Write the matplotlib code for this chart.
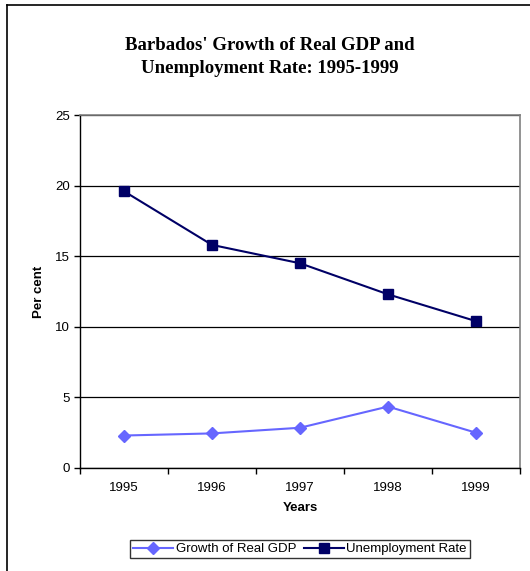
import matplotlib
matplotlib.use("Agg")
import matplotlib.pyplot as plt
from matplotlib.lines import Line2D

years = ["1995", "1996", "1997", "1998", "1999"]
gdp_growth = [2.3, 2.45, 2.85, 4.35, 2.5]
unemployment = [19.6, 15.8, 14.5, 12.3, 10.4]
y_ticks = [0, 5, 10, 15, 20, 25]

W, H = 530, 571
fig = plt.figure(figsize=(W / 100, H / 100), dpi=100)

# plot area in pixels: x 80..520, y 115..468
L, R, T, B = 80, 520, 115, 468
ax = fig.add_axes([L / W, 1 - B / H, (R - L) / W, (B - T) / H])

x = list(range(len(years)))
gdp_color = "#6666FF"
un_color = "#000066"
ax.plot(x, gdp_growth, color=gdp_color, lw=1.5, marker="D", ms=6,
        mfc=gdp_color, mec=gdp_color, label="Growth of Real GDP", zorder=3)
ax.plot(x, unemployment, color=un_color, lw=1.5, marker="s", ms=7.5,
        mfc=un_color, mec=un_color, label="Unemployment Rate", zorder=3)

fs = 9.5
ax.set_xlim(-0.5, len(years) - 0.5)
ax.set_ylim(0, 25)
ax.set_yticks(y_ticks)
ax.set_yticklabels([str(v) for v in y_ticks], fontsize=fs, family="Liberation Sans")
ax.yaxis.grid(True, color="black", lw=0.9)
ax.set_axisbelow(True)

ax.set_xticks(x)
ax.set_xticklabels(years, fontsize=fs, family="Liberation Sans")
ax.tick_params(axis="x", which="major", length=0, pad=10)
ax.set_xticks([i - 0.5 for i in range(len(years) + 1)], minor=True)
ax.tick_params(axis="x", which="minor", length=4, width=1, color="black")
ax.tick_params(axis="y", length=4, width=1, color="black", pad=3)

for s in ["top", "right"]:
    ax.spines[s].set_color("#808080")
    ax.spines[s].set_linewidth(1.2)
for s in ["left", "bottom"]:
    ax.spines[s].set_color("black")
    ax.spines[s].set_linewidth(1.0)

ax.set_ylabel("Per cent", fontsize=fs, fontweight="bold", family="Liberation Sans")
ax.yaxis.set_label_coords((45 - L) / (R - L), 0.5)
ax.set_xlabel("Years", fontsize=fs, fontweight="bold", family="Liberation Sans", labelpad=6)

fig.text(270 / W, 1 - 57 / H, "Barbados' Growth of Real GDP and\nUnemployment Rate: 1995-1999",
         ha="center", va="center", fontsize=13.5, fontweight="bold",
         family="Liberation Serif", linespacing=1.45)

handles = [
    Line2D([], [], color=gdp_color, lw=1.5, marker="D", ms=6, mfc=gdp_color, mec=gdp_color),
    Line2D([], [], color=un_color, lw=1.5, marker="s", ms=7, mfc=un_color, mec=un_color),
]
leg = fig.legend(handles, ["Growth of Real GDP", "Unemployment Rate"], ncol=2,
                 loc="center", bbox_to_anchor=(300 / W, 1 - 549 / H),
                 prop={"family": "Liberation Sans", "size": fs},
                 frameon=True, fancybox=False, edgecolor="black",
                 handlelength=3.0, handletextpad=0.2, columnspacing=0.6,
                 borderpad=0.25, borderaxespad=0)
leg.get_frame().set_linewidth(1.0)

# outer chart border (partially cropped)
fig.add_artist(Line2D([7 / W, 7 / W], [0, 1 - 5 / H], color="black", lw=1.2, transform=fig.transFigure))
fig.add_artist(Line2D([7 / W, 1], [1 - 5 / H, 1 - 5 / H], color="black", lw=1.2, transform=fig.transFigure))

fig.savefig("out.png", dpi=100)
